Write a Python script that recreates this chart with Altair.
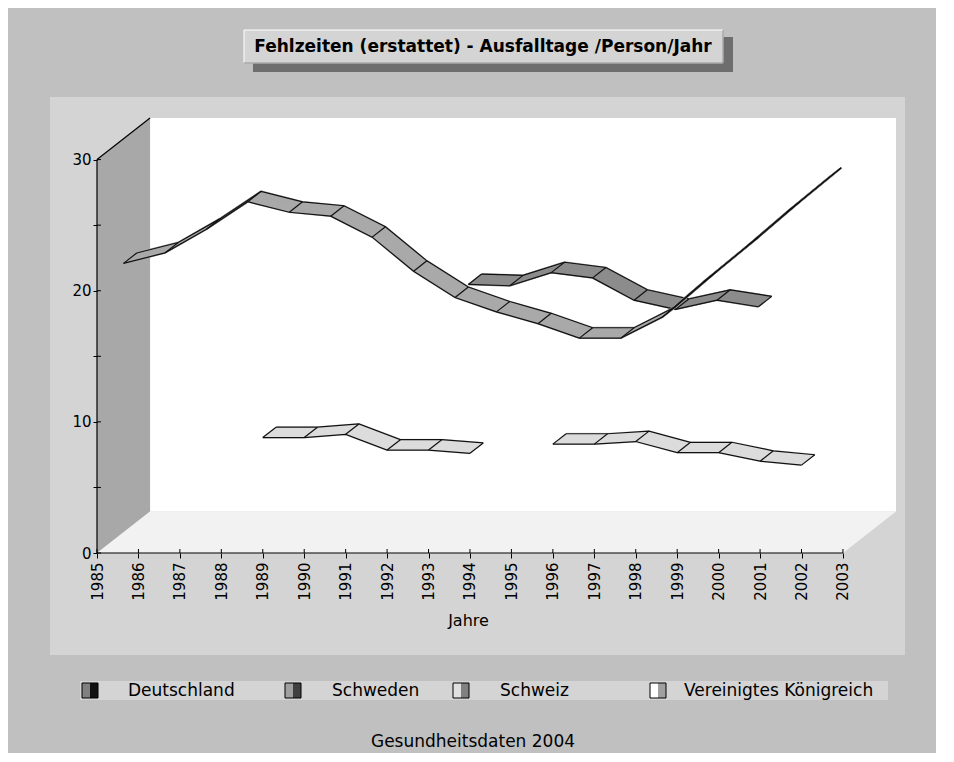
import altair as alt
import pandas as pd

# ---------------- data ----------------
years = list(range(1985, 2004))
series_names = ["Deutschland", "Schweden", "Schweiz", "Vereinigtes Königreich"]

deutschland = [None] * 8 + [18.1, 18.0, 19.0, 18.6, 16.9, 16.2, 16.9, 16.4] + [None] * 3
schweden = [20.5, 21.3, 23.1, 25.2, 24.4, 24.1, 22.5, 19.9, 17.9, 16.8,
            15.9, 14.8, 14.8, 16.4, 19.1, 21.7, 24.4, 27.0, None]
schweiz = [None] * 19
vereinigtes_koenigreich = [None] * 4 + [8.8, 8.8, 9.05, 7.85, 7.85, 7.6, None,
                                       8.3, 8.3, 8.5, 7.65, 7.65, 7.0, 6.7, None]
series_values = [deutschland, schweden, schweiz, vereinigtes_koenigreich]

y_ticks = [0, 5, 10, 15, 20, 25, 30]

title_text = "Fehlzeiten (erstattet) - Ausfalltage /Person/Jahr"
footer_text = "Gesundheitsdaten 2004"
x_title = "Jahre"

# ---------------- styling ----------------
FONT = "DejaVu Sans"
ribbon_fill = ["#8c8c8c", "#a9a9a9", "#c6c6c6", "#dcdcdc"]
legend_light = ["#808080", "#a0a0a0", "#e0e0e0", "#ffffff"]
legend_dark = ["#111111", "#404040", "#808080", "#a0a0a0"]
EDGE = "#111111"

# 3-D depth of the chart box, in data units
DX = 1.28      # years
DY = 3.17      # days
PX_YEAR = 41.44
PX_UNIT = 13.1
W = round((18 + DX) * PX_YEAR)
H = round((30 + DY) * PX_UNIT)
NSWEEP = 14

xscale = alt.Scale(domain=[1985, 2003 + DX], nice=False, zero=False)
yscale = alt.Scale(domain=[0, 30 + DY], nice=False, zero=False)

x_axis = alt.Axis(values=years, format="d", labelAngle=-90, labelAlign="right",
                  labelBaseline="middle", tickSize=5, tickColor="black",
                  domain=False, grid=False, labelFont=FONT, labelFontSize=15,
                  labelColor="black", labelPadding=4, labelOverlap=False,
                  labelFlush=False, title=x_title, titleFont=FONT,
                  titleFontSize=16, titleFontWeight="normal", titleColor="black",
                  titleX=371, titleY=59, titleBaseline="top", titleAlign="center",
                  zindex=1)
y_axis = alt.Axis(values=y_ticks, labelExpr="datum.value % 10 == 0 ? datum.label : ''",
                  tickSize=4, tickColor="black", domain=False, grid=False,
                  labelFont=FONT, labelFontSize=15, labelColor="black",
                  labelPadding=2, title=None, zindex=1)


def X(f):
    return alt.X(f, type="quantitative", scale=xscale, axis=x_axis, title=x_title)


def Y(f):
    return alt.Y(f, type="quantitative", scale=yscale, axis=y_axis, title=None)


one = pd.DataFrame({"a": [0]})

# ---------------- frame ----------------
panel = alt.Chart(one).mark_rect(color="#d4d4d4").encode(
    x=alt.value(-47), x2=alt.value(808), y=alt.value(-21), y2=alt.value(537))

back_df = pd.DataFrame({"x0": [1985 + DX], "x1": [2003 + DX], "y0": [DY], "y1": [30 + DY]})
back_wall = alt.Chart(back_df).mark_rect(color="#ffffff").encode(
    x=X("x0"), x2="x1", y=Y("y0"), y2="y1")

left_wall_df = pd.DataFrame({"x0": [1985, 1985 + DX], "y0": [30, 30 + DY], "y1": [0, DY]})
left_wall = alt.Chart(left_wall_df).mark_area(color="#a8a8a8").encode(
    x=X("x0"), y=Y("y0"), y2="y1")

floor_df = pd.DataFrame({"x0": [1985, 1985 + DX, 2003, 2003 + DX],
                         "y0": [0, DY, DY, DY], "y1": [0, 0, 0, DY]})
floor = alt.Chart(floor_df).mark_area(color="#f2f2f2").encode(
    x=X("x0"), y=Y("y0"), y2="y1")

lines_df = pd.DataFrame({
    "x0": [1985, 1985, 1985],
    "x1": [1985, 2003, 1985 + DX],
    "y0": [0, 0, 30],
    "y1": [30, 0, 30 + DY],
})
frame_lines = alt.Chart(lines_df).mark_rule(color="black", strokeWidth=1.2).encode(
    x=X("x0"), x2="x1", y=Y("y0"), y2="y1")

# inner halves of the crossing tick marks
ytick_df = pd.DataFrame({"y0": y_ticks})
ytick_in = alt.Chart(ytick_df).mark_rule(color="black").encode(
    x=alt.value(0), x2=alt.value(4), y=Y("y0"))
xtick_df = pd.DataFrame({"x0": years})
xtick_in = alt.Chart(xtick_df).mark_rule(color="black").encode(
    x=X("x0"), y=alt.value(H), y2=alt.value(H - 4))

layers = [panel, back_wall, left_wall, floor, frame_lines, ytick_in, xtick_in]

# ---------------- ribbons (back row first) ----------------
# depth row: Vereinigtes Königreich in front, Deutschland at the back
for si in [0, 1, 2, 3]:
    name = series_names[si]
    row = 3 - si
    vals = series_values[si]
    pts = []
    seg = 0
    for yr, v in zip(years, vals):
        if v is None:
            seg += 1
            continue
        pts.append({"year": yr, "value": v, "seg": seg})
    if not pts:
        continue
    base = pd.DataFrame(pts)
    sweep = []
    for k in range(NSWEEP + 1):
        f = (row + k / NSWEEP) / 4.0
        d = base.copy()
        d["xs"] = d["year"] + f * DX
        d["ys"] = d["value"] + f * DY
        d["grp"] = d["seg"].astype(str) + "-" + str(k)
        d["k"] = k
        sweep.append(d)
    sweep = pd.concat(sweep, ignore_index=True)
    fill = alt.Chart(sweep).mark_line(color=ribbon_fill[si], strokeWidth=1.8).encode(
        x=X("xs"), y=Y("ys"), detail="grp:N", order="year:Q")
    edges = alt.Chart(sweep[sweep["k"].isin([0, NSWEEP])]).mark_line(
        color=EDGE, strokeWidth=1.2).encode(
        x=X("xs"), y=Y("ys"), detail="grp:N", order="year:Q")
    cross = base.copy()
    cross["x0"] = cross["year"] + row / 4.0 * DX
    cross["y0"] = cross["value"] + row / 4.0 * DY
    cross["x1"] = cross["year"] + (row + 1) / 4.0 * DX
    cross["y1"] = cross["value"] + (row + 1) / 4.0 * DY
    crosses = alt.Chart(cross).mark_rule(color=EDGE, strokeWidth=1.2).encode(
        x=X("x0"), y=Y("y0"), x2="x1", y2="y1")
    layers += [fill, edges, crosses]

# ---------------- title box ----------------
shadow = alt.Chart(one).mark_rect(color="#6e6e6e").encode(
    x=alt.value(156), x2=alt.value(636), y=alt.value(-81), y2=alt.value(-46))
box = alt.Chart(one).mark_rect(color="#d4d4d4", stroke="#ffffff", strokeWidth=1).encode(
    x=alt.value(147), x2=alt.value(626), y=alt.value(-88), y2=alt.value(-55))
box_b = alt.Chart(one).mark_rule(color="#808080").encode(
    x=alt.value(147), x2=alt.value(626), y=alt.value(-55))
box_r = alt.Chart(one).mark_rule(color="#808080").encode(
    x=alt.value(626), y=alt.value(-88), y2=alt.value(-55))
title = alt.Chart(one).mark_text(text=title_text, font=FONT, fontSize=17, fontWeight="bold",
                                 color="black", align="center", baseline="middle").encode(
    x=alt.value(386), y=alt.value(-71))
layers += [shadow, box, box_b, box_r, title]

# ---------------- legend ----------------
band = alt.Chart(one).mark_rect(color="#d4d4d4").encode(
    x=alt.value(-17), x2=alt.value(791), y=alt.value(563), y2=alt.value(582))
layers.append(band)
sw_x = [-15, 188, 356, 553]
tx_x = [31, 235, 403, 587]
for i, name in enumerate(series_names):
    sx = sw_x[i]
    layers.append(alt.Chart(one).mark_rect(color=legend_light[i]).encode(
        x=alt.value(sx), x2=alt.value(sx + 8), y=alt.value(565), y2=alt.value(580)))
    layers.append(alt.Chart(one).mark_rect(color=legend_dark[i]).encode(
        x=alt.value(sx + 8), x2=alt.value(sx + 16), y=alt.value(565), y2=alt.value(580)))
    layers.append(alt.Chart(one).mark_rect(fillOpacity=0, stroke="black", strokeWidth=1).encode(
        x=alt.value(sx), x2=alt.value(sx + 16), y=alt.value(565), y2=alt.value(580)))
    layers.append(alt.Chart(one).mark_text(text=name, font=FONT, fontSize=17, color="black",
                                           align="left", baseline="middle").encode(
        x=alt.value(tx_x[i]), y=alt.value(573)))

footer = alt.Chart(one).mark_text(text=footer_text, font=FONT, fontSize=17, color="black",
                                  align="center", baseline="middle").encode(
    x=alt.value(376), y=alt.value(624))
layers.append(footer)

chart = alt.layer(*layers).properties(
    width=W, height=H,
    padding={"left": 89, "top": 110, "right": 40, "bottom": 200},
    autosize=alt.AutoSizeParams(type="none"),
).configure(background="#c0c0c0").configure_view(stroke=None)

chart.save("out.html", embed_options={"renderer": "svg", "actions": False})
